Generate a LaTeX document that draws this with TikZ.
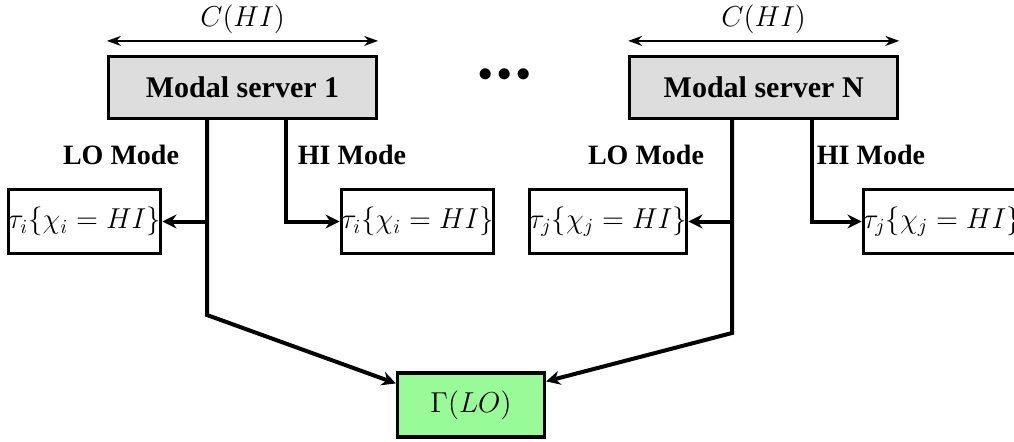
\documentclass[tikz,border=0pt]{standalone}
\usepackage[no-math]{fontspec}
\setmainfont{Liberation Serif}
\usetikzlibrary{arrows.meta,positioning,calc}
\definecolor{palegreen}{RGB}{152,251,152}

\begin{document}
\begin{tikzpicture}[
    font=\fontsize{14}{17}\selectfont,
    >={Stealth[length=7pt,width=7pt]},
    server/.style={rectangle, draw=black, line width=1.6pt, fill=gray!27,
                   minimum width=134pt, minimum height=31pt,
                   font=\fontsize{15}{18}\selectfont\bfseries},
    task/.style ={rectangle, draw=black, line width=1.6pt, fill=white,
                  inner sep=0pt, minimum width=73.5pt, minimum height=32pt},
    sched/.style={task, fill=palegreen},
    mode/.style ={font=\fontsize{14}{17}\selectfont\bfseries},
    link/.style ={line width=2pt},
    span/.style ={<->, line width=0.9pt, >={Stealth[length=7pt,width=5pt]}}
]
\useasboundingbox (0,0) rectangle (507pt,-220.5pt);

%---- SERVERS ------------------------------------------
\node (srv1) [server] at (121.25pt,-43.75pt) {Modal server 1};
\node (srvN) [server, right=125pt of srv1]   {Modal server N};
\node (dots) at (252.5pt,-37.5pt) {${\bullet}\,{\bullet}\,{\bullet}$};

\draw[span] ([yshift=7pt]srv1.north west) -- ([yshift=7pt]srv1.north east)
    node[midway, above, inner sep=3pt] {$C(HI)$};
\draw[span] ([yshift=7pt]srvN.north west) -- ([yshift=7pt]srvN.north east)
    node[midway, above, inner sep=3pt] {$C(HI)$};

%---- TASKS --------------------------------------------
\node (tau1) [task] at (42.25pt,-110.75pt)  {$\tau_i\{\chi_i = HI\}$};
\node (tau2) [task] at (208.75pt,-110.75pt) {$\tau_i\{\chi_i = HI\}$};
\node (tau3) [task] at (304pt,-110.75pt)    {$\tau_j\{\chi_j = HI\}$};
\node (tau4) [task] at (471pt,-110.75pt)    {$\tau_j\{\chi_j = HI\}$};

\node (gam) [sched] at (235.5pt,-202.5pt) {$\Gamma(LO)$};

%---- MODE LABELS --------------------------------------
\node (lo1lbl) [mode] at (60.5pt,-77.5pt)  {LO Mode};
\node (hi1lbl) [mode] at (176pt,-77.5pt)   {HI Mode};
\node (loNlbl) [mode] at (323pt,-77.5pt)   {LO Mode};
\node (hiNlbl) [mode] at (435.5pt,-77.5pt) {HI Mode};

%---- BRANCH POINTS ------------------------------------
\coordinate (lo1)   at (103.5pt,-110.75pt);
\coordinate (hi1)   at (143pt,-110.75pt);
\coordinate (kink1) at (103.5pt,-157.5pt);
\coordinate (loN)   at (366pt,-110.75pt);
\coordinate (hiN)   at (406pt,-110.75pt);
\coordinate (kinkN) at (366pt,-166.5pt);

% LO mode: to task and down to the LO server
\draw[link,->] (srv1.south -| lo1) -- (kink1) -- ([yshift=-6pt]gam.north west);
\draw[link,->] (lo1) -- (tau1.east);
\draw[link,->] (srvN.south -| loN) -- (kinkN) -- ([yshift=-5pt]gam.north east);
\draw[link,->] (loN) -- (tau3.east);

% HI mode
\draw[link,->] (srv1.south -| hi1) |- (tau2.west);
\draw[link,->] (srvN.south -| hiN) |- (tau4.west);
\end{tikzpicture}
\end{document}
